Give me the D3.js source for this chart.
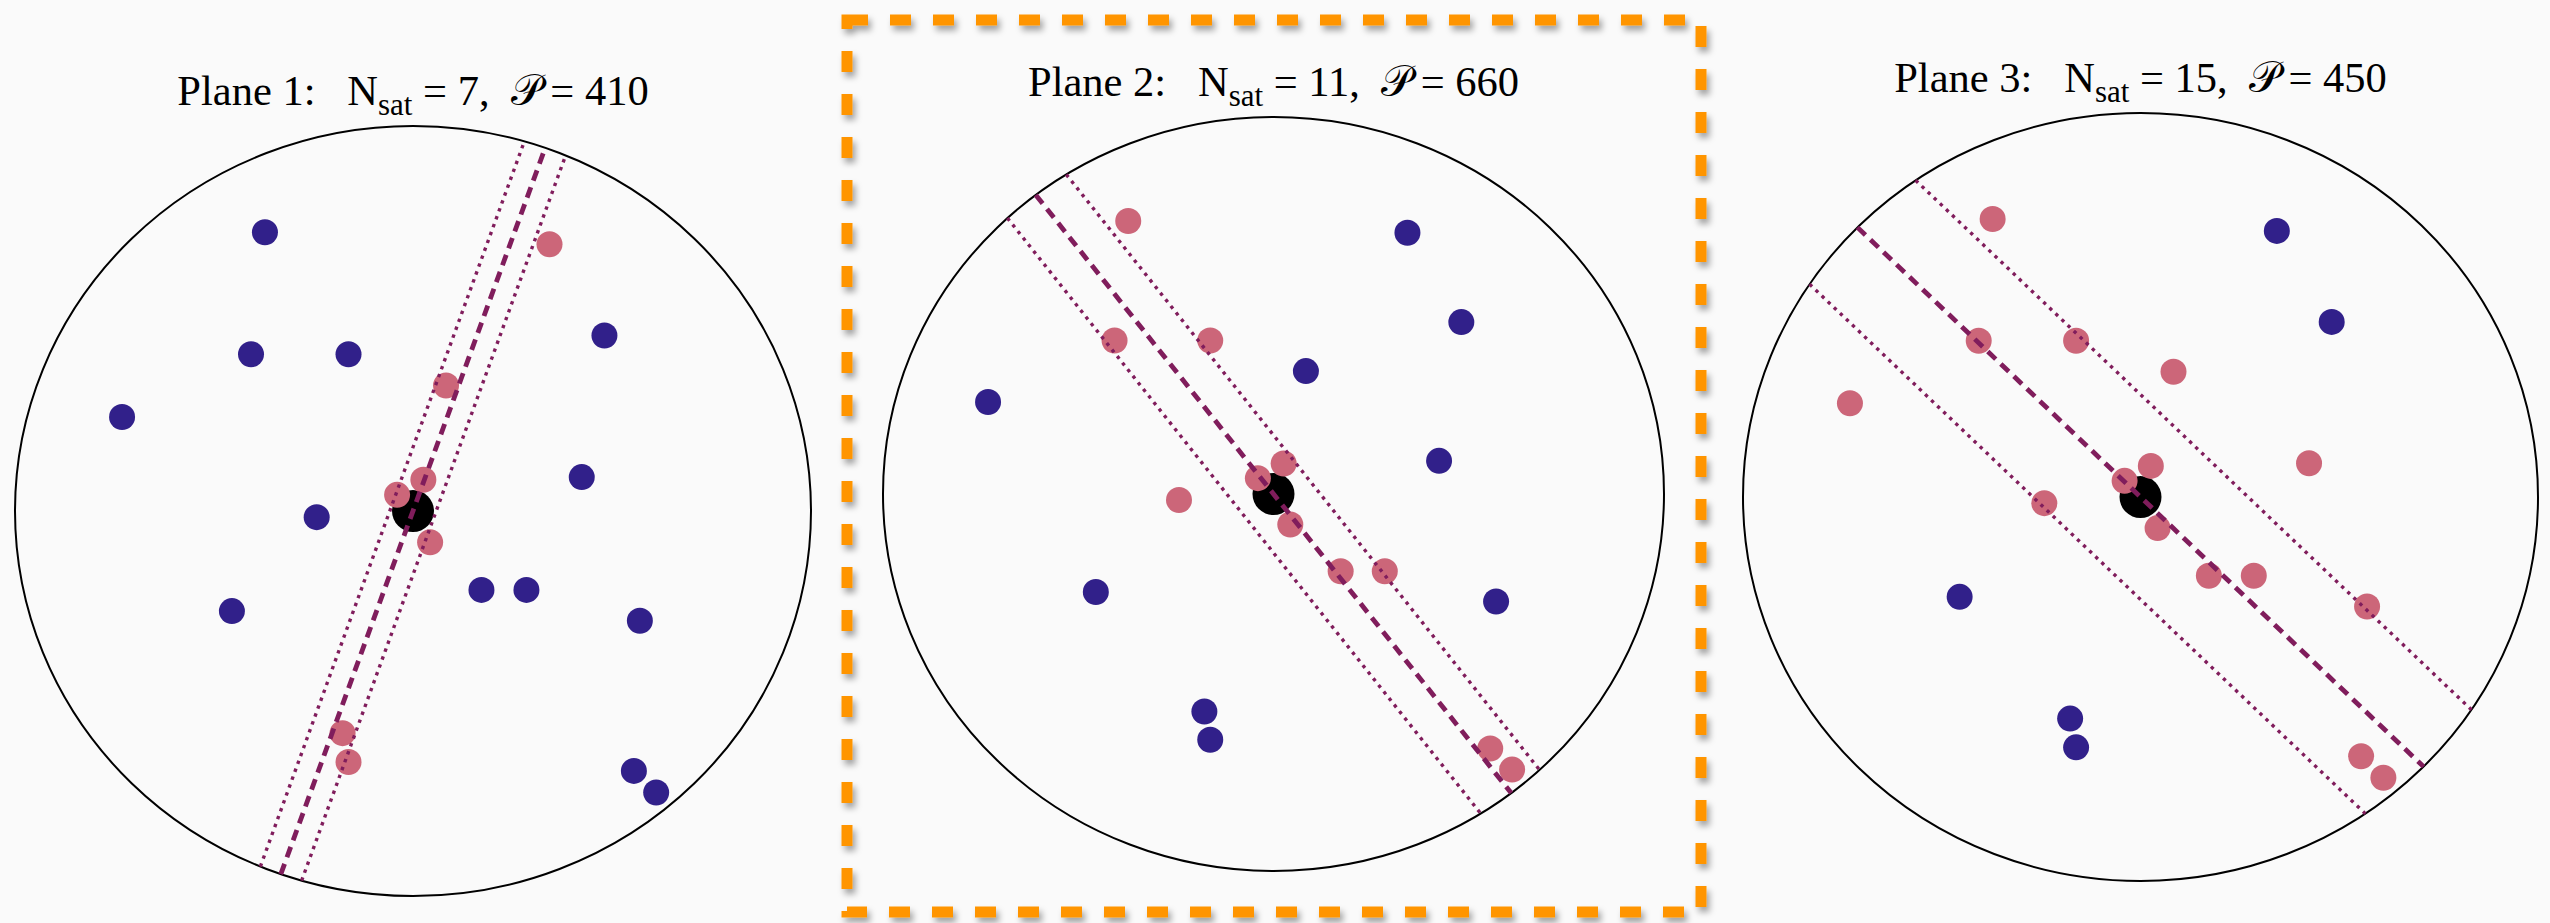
<!DOCTYPE html>
<html>
<head>
<meta charset="utf-8">
<script src="https://cdn.jsdelivr.net/npm/d3@7"></script>
<style>
  html, body { margin: 0; padding: 0; background: #fafafa; }
  svg { display: block; }
  text { font-family: "Liberation Serif", "Times New Roman", serif; white-space: pre; }
</style>
</head>
<body>
<svg id="chart" width="2550" height="923"></svg>
<script>
// Orbital planes: the same 20 satellites seen in the unit sky disk,
// with the ones captured by each candidate plane highlighted.
const planeNames = ["Plane 1", "Plane 2", "Plane 3"];
const nSat = [7, 11, 15];
const pValues = [410, 660, 450];

// satellite positions on the unit disk (x east, y north)
const satX = [-0.372, -0.407, -0.162, 0.481, -0.731, -0.242, 0.424, -0.455, 0.172, 0.285,
               0.570,  0.555,  0.611, 0.343,  0.083,  0.026, -0.040, 0.043, -0.177, -0.162];
const satY = [ 0.724,  0.407,  0.407, 0.456,  0.244, -0.016, 0.088, -0.260, -0.205, -0.205,
              -0.285, -0.675, -0.731, 0.693,  0.326,  0.081,  0.042, -0.081, -0.577, -0.652];

// indices of satellites lying in each plane
const planeMembers = [
  [13, 14, 15, 16, 17, 18, 19],
  [0, 1, 2, 5, 8, 9, 11, 12, 15, 16, 17],
  [0, 1, 2, 4, 5, 6, 8, 9, 10, 11, 12, 14, 15, 16, 17]
];

// plane trace: direction (degrees) through the centre, and half-width of its band
const planeAngles = [70.6, -52.5, -44.6];
const planeHalfWidths = [0.055, 0.095, 0.19];

const selectedPlane = 1;

// ---- layout ----
const W = 2550, H = 923;
const panelBoxes = [
  { cx: 413,    cy: 511, rx: 398,   ry: 385 },
  { cx: 1273.5, cy: 494, rx: 390.5, ry: 377 },
  { cx: 2140.5, cy: 497, rx: 397.5, ry: 384 }
];
const colors = {
  out: "#31208a",
  inPlane: "#cc6679",
  line: "#801d5c",
  centre: "#000000",
  highlight: "#ff9500"
};

const svg = d3.select("#chart");

svg.append("rect").attr("width", W).attr("height", H).attr("fill", "#fafafa");

const defs = svg.append("defs");
const shadow = defs.append("filter").attr("id", "boxShadow")
  .attr("x", "-5%").attr("y", "-5%").attr("width", "110%").attr("height", "110%");
shadow.append("feDropShadow")
  .attr("dx", 3).attr("dy", 5).attr("stdDeviation", 3)
  .attr("flood-color", "#000").attr("flood-opacity", 0.35);

planeNames.forEach((name, i) => {
  const b = panelBoxes[i];
  const x = d3.scaleLinear().domain([-1, 1]).range([b.cx - b.rx, b.cx + b.rx]);
  const y = d3.scaleLinear().domain([-1, 1]).range([b.cy + b.ry, b.cy - b.ry]);
  const g = svg.append("g").attr("class", "panel");

  // sky disk boundary
  g.append("ellipse")
    .attr("cx", x(0)).attr("cy", y(0))
    .attr("rx", x(1) - x(0)).attr("ry", y(-1) - y(0))
    .attr("fill", "none").attr("stroke", "#000").attr("stroke-width", 2);

  // title
  const t = g.append("text")
    .attr("x", x(0)).attr("y", y(1) - 21)
    .attr("text-anchor", "middle")
    .attr("font-size", 42.5).attr("fill", "#000");
  t.append("tspan").text(`${name}:   N`);
  t.append("tspan").attr("font-size", 31).attr("dy", 10).text("sat");
  t.append("tspan").attr("dy", -10).text(` = ${nSat[i]},  `);
  t.append("tspan").attr("font-family", "'DejaVu Serif', 'DejaVu Sans', serif").text("\u{1D4AB}");
  t.append("tspan").text(`\u2009= ${pValues[i]}`);

  // observer at the centre
  g.append("circle")
    .attr("cx", x(0)).attr("cy", y(0)).attr("r", 21)
    .attr("fill", colors.centre);

  const members = new Set(planeMembers[i]);
  const sats = satX.map((sx, k) => ({ x: sx, y: satY[k], inPlane: members.has(k) }));

  g.selectAll("circle.sat")
    .data(sats.filter(d => !d.inPlane).concat(sats.filter(d => d.inPlane)))
    .join("circle")
    .attr("class", "sat")
    .attr("cx", d => x(d.x)).attr("cy", d => y(d.y)).attr("r", 13)
    .attr("fill", d => d.inPlane ? colors.inPlane : colors.out);

  // plane trace and its band edges, clipped to the disk
  const a = planeAngles[i] * Math.PI / 180;
  const dx = Math.cos(a), dy = Math.sin(a);
  const nx = -dy, ny = dx;
  const hw = planeHalfWidths[i];
  const traces = [
    { c: -hw, kind: "edge" },
    { c: hw, kind: "edge" },
    { c: 0, kind: "centre" }
  ];
  const lineGen = d3.line().x(p => x(p[0])).y(p => y(p[1]));
  g.selectAll("path.trace")
    .data(traces)
    .join("path")
    .attr("class", "trace")
    .attr("d", d => {
      const s = Math.sqrt(1 - d.c * d.c);
      return lineGen([
        [d.c * nx - s * dx, d.c * ny - s * dy],
        [d.c * nx + s * dx, d.c * ny + s * dy]
      ]);
    })
    .attr("fill", "none")
    .attr("stroke", colors.line)
    .attr("stroke-width", d => d.kind === "centre" ? 4.8 : 3.4)
    .attr("stroke-dasharray", d => d.kind === "centre" ? "11,7" : "3.4,5");

  // highlight box around the chosen plane
  if (i === selectedPlane) {
    svg.append("rect")
      .attr("x", 847).attr("y", 20)
      .attr("width", 854).attr("height", 892)
      .attr("fill", "none")
      .attr("stroke", colors.highlight)
      .attr("stroke-width", 11)
      .attr("stroke-dasharray", "21,22")
      .attr("filter", "url(#boxShadow)");
  }
});
</script>
</body>
</html>
